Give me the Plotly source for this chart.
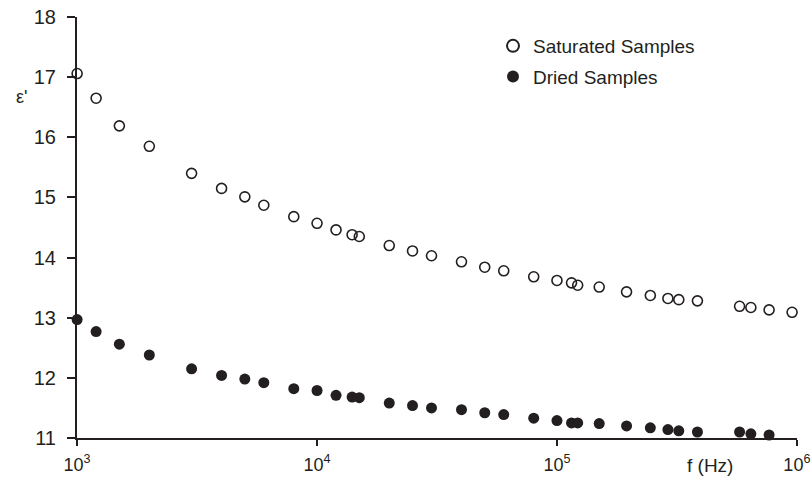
import plotly.graph_objects as go

# Frequencies (Hz)
freq_saturated = [1000, 1200, 1500, 2000, 3000, 4000, 5000, 6000, 8000, 10000,
                  12000, 14000, 15000, 20000, 25000, 30000, 40000, 50000, 60000, 80000,
                  100000, 115000, 122000, 150000, 195000, 245000, 290000, 322000, 385000,
                  577000, 643000, 766000, 955000]
eps_saturated = [17.06, 16.65, 16.19, 15.85, 15.40, 15.15, 15.01, 14.87, 14.68, 14.57,
                 14.46, 14.38, 14.35, 14.20, 14.11, 14.03, 13.93, 13.84, 13.78, 13.68,
                 13.62, 13.58, 13.54, 13.51, 13.43, 13.37, 13.32, 13.30, 13.28,
                 13.19, 13.17, 13.13, 13.09]

freq_dried = freq_saturated[:32]
eps_dried = [12.97, 12.77, 12.56, 12.38, 12.15, 12.04, 11.98, 11.92, 11.82, 11.79,
             11.71, 11.68, 11.67, 11.58, 11.54, 11.50, 11.47, 11.42, 11.39, 11.33,
             11.29, 11.25, 11.25, 11.24, 11.20, 11.17, 11.14, 11.12, 11.10,
             11.10, 11.07, 11.05]

x_tickvals = [1e3, 1e4, 1e5, 1e6]
x_ticktext = ["10<sup>3</sup>", "10<sup>4</sup>", "10<sup>5</sup>", "10<sup>6</sup>"]
y_tickvals = [11, 12, 13, 14, 15, 16, 17, 18]

INK = "#231f20"
FONT = "Liberation Sans, Arial, sans-serif"

L, R, T, B = 77, 14, 17, 43
PW, PH = 811 - L - R, 481 - T - B

fig = go.Figure()
fig.add_trace(go.Scatter(
    x=freq_saturated, y=eps_saturated, mode="markers", name="Saturated Samples",
    legendgroup="a",
    marker=dict(symbol="circle-open", size=10, color=INK, line=dict(width=1.6, color=INK)),
    cliponaxis=False,
))
fig.add_trace(go.Scatter(
    x=freq_dried, y=eps_dried, mode="markers", name="Dried Samples",
    legendgroup="b",
    marker=dict(symbol="circle", size=11, color=INK),
    cliponaxis=False,
))

fig.update_layout(
    width=811, height=481,
    margin=dict(l=L, r=R, t=T, b=B, autoexpand=False),
    paper_bgcolor="white", plot_bgcolor="white",
    font=dict(family=FONT, color=INK, size=19),
    showlegend=True,
    legend=dict(x=(493 - L) / PW, xanchor="left", y=1 - (27 - T) / PH, yanchor="top",
                font=dict(size=19, color=INK), bgcolor="rgba(0,0,0,0)",
                tracegroupgap=3, itemsizing="constant"),
    xaxis=dict(type="log", range=[2.9995, 6.0005], tickvals=x_tickvals, ticktext=x_ticktext,
               automargin=False,
               showgrid=False, zeroline=False, showline=True, linecolor=INK, linewidth=2,
               ticks="outside", ticklen=6, tickwidth=2, tickcolor=INK,
               tickfont=dict(size=18, color=INK), ticklabelstandoff=3),
    yaxis=dict(range=[11, 18], tickvals=y_tickvals, automargin=False,
               showgrid=False, zeroline=False, showline=True, linecolor=INK, linewidth=2,
               ticks="outside", ticklen=8, tickwidth=2, tickcolor=INK,
               tickfont=dict(size=20, color=INK), ticklabelstandoff=7),
    annotations=[
        dict(text="f (Hz)", xref="paper", yref="paper", x=(710 - L) / PW, y=-(465 - 438) / PH,
             xanchor="center", yanchor="middle", showarrow=False,
             font=dict(size=19, color=INK)),
        dict(text="ε'", xref="paper", yref="paper", x=-(L - 21) / PW, y=1 - (97 - T) / PH,
             xanchor="center", yanchor="middle", showarrow=False,
             font=dict(size=18, color=INK)),
    ],
)

fig.write_html("out.html",
               config={"displayModeBar": False},
               post_script="document.body.style.margin='0';document.body.style.overflow='hidden';")
